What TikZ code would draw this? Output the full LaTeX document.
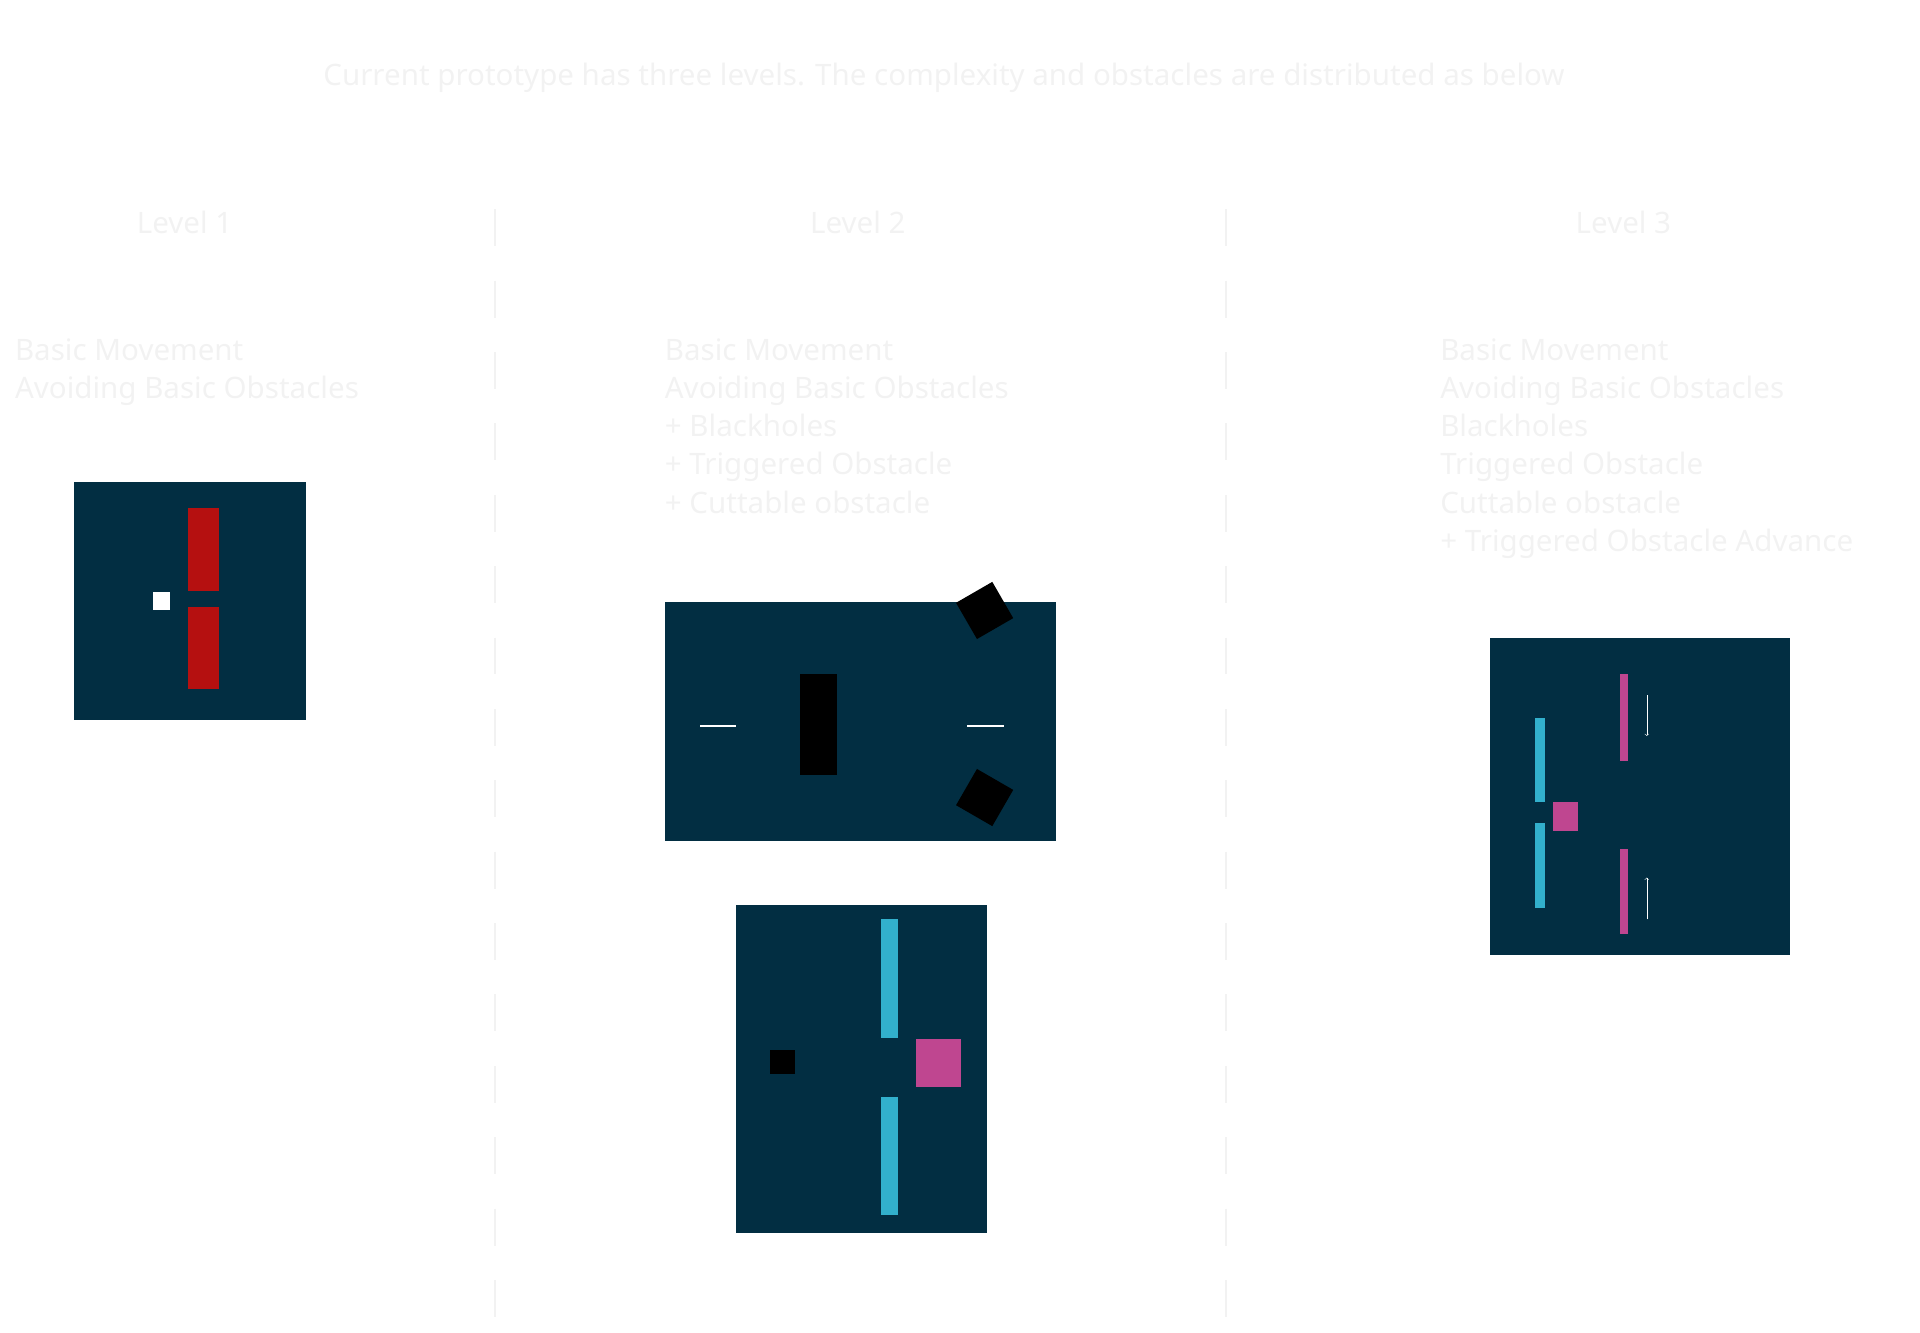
\documentclass[tikz,border=0pt]{standalone}
\usepackage{fontspec}
\setmainfont{Noto Sans}
\usetikzlibrary{positioning}
\definecolor{field}{HTML}{022E42}
\definecolor{wall}{HTML}{B51010}
\definecolor{cyanbar}{HTML}{32B0CC}
\definecolor{pinkbar}{HTML}{BF4690}
\definecolor{ghost}{HTML}{F2F2F2}
\tikzset{
  ttl/.style={text=ghost,font=\bfseries\fontsize{24}{28}\selectfont},
  lvl/.style={text=ghost,font=\bfseries\fontsize{24}{28}\selectfont},
  lst/.style={text=ghost,font=\fontsize{24}{31}\selectfont,align=left,anchor=north west,inner sep=0pt},
  sep/.style={draw=ghost,line width=1.5pt,dash pattern=on 30pt off 28pt},
}
\begin{document}
\begin{tikzpicture}[x=1pt,y=-1pt]
			\useasboundingbox (0,0) rectangle (1560,1083);
			\node[ttl] (title) at (767,63) {Current prototype has three levels. The complexity and obstacles are distributed as below};
			\node[lvl] (l1) at (150,181) {Level 1};
			\node[lvl] (l2) at (697,181) {Level 2};
			\node[lvl] (l3) at (1319,181) {Level 3};
			\coordinate (s1a) at (402,170);
			\coordinate (s1b) at (402,1083);
			\coordinate (s2a) at (996,170);
			\coordinate (s2b) at (996,1083);
			\draw[sep] (s1a) -- (s1b);
			\draw[sep] (s2a) -- (s2b);
			\node[lst] (t1) at (12,275) {Basic Movement\\Avoiding Basic Obstacles};
			\node[lst] (t2) at (540,275) {Basic Movement\\Avoiding Basic Obstacles\\+ Blackholes\\+ Triggered Obstacle\\+ Cuttable obstacle};
			\node[lst] (t3) at (1170,275) {Basic Movement\\Avoiding Basic Obstacles\\Blackholes\\Triggered Obstacle\\Cuttable obstacle\\+ Triggered Obstacle Advance};
			% level 1
			\fill[field] (60,392) rectangle (249,585);
			\fill[wall] (153,413) rectangle (178,480);
			\fill[wall] (153,493) rectangle (178,560);
			\fill[white] (124,481) rectangle (138,496);
			% level 2, first map
			\fill[field] (540,489) rectangle (858,683);
			\fill[black] (650,548) rectangle (680,630);
			\draw[white,line width=1.5pt] (569,590) -- (598,590);
			\draw[white,line width=1.5pt] (786,590) -- (816,590);
			\fill[black,rotate around={30:(800,496)}] (783,479) rectangle (817,513);
			\fill[black,rotate around={-30:(800,648)}] (783,631) rectangle (817,665);
			% level 2, second map
			\fill[field] (598,735) rectangle (802,1002);
			\fill[cyanbar] (716,747) rectangle (730,843);
			\fill[cyanbar] (716,891) rectangle (730,987);
			\fill[pinkbar] (744,844) rectangle (781,883);
			\fill[black] (626,853) rectangle (646,873);
			% level 3
			\fill[field] (1211,518) rectangle (1454,776);
			\fill[cyanbar] (1247,583) rectangle (1255,652);
			\fill[cyanbar] (1247,669) rectangle (1255,738);
			\fill[pinkbar] (1262,652) rectangle (1282,675);
			\fill[pinkbar] (1316,548) rectangle (1323,618);
			\fill[pinkbar] (1316,690) rectangle (1323,759);
			\coordinate (dn1) at (1338,565);
			\coordinate (dn2) at (1338,598);
			\coordinate (up1) at (1338,747);
			\coordinate (up2) at (1338,713);
			\draw[->,white] (dn1) -- (dn2);
			\draw[->,white] (up1) -- (up2);
\end{tikzpicture}
\end{document}
